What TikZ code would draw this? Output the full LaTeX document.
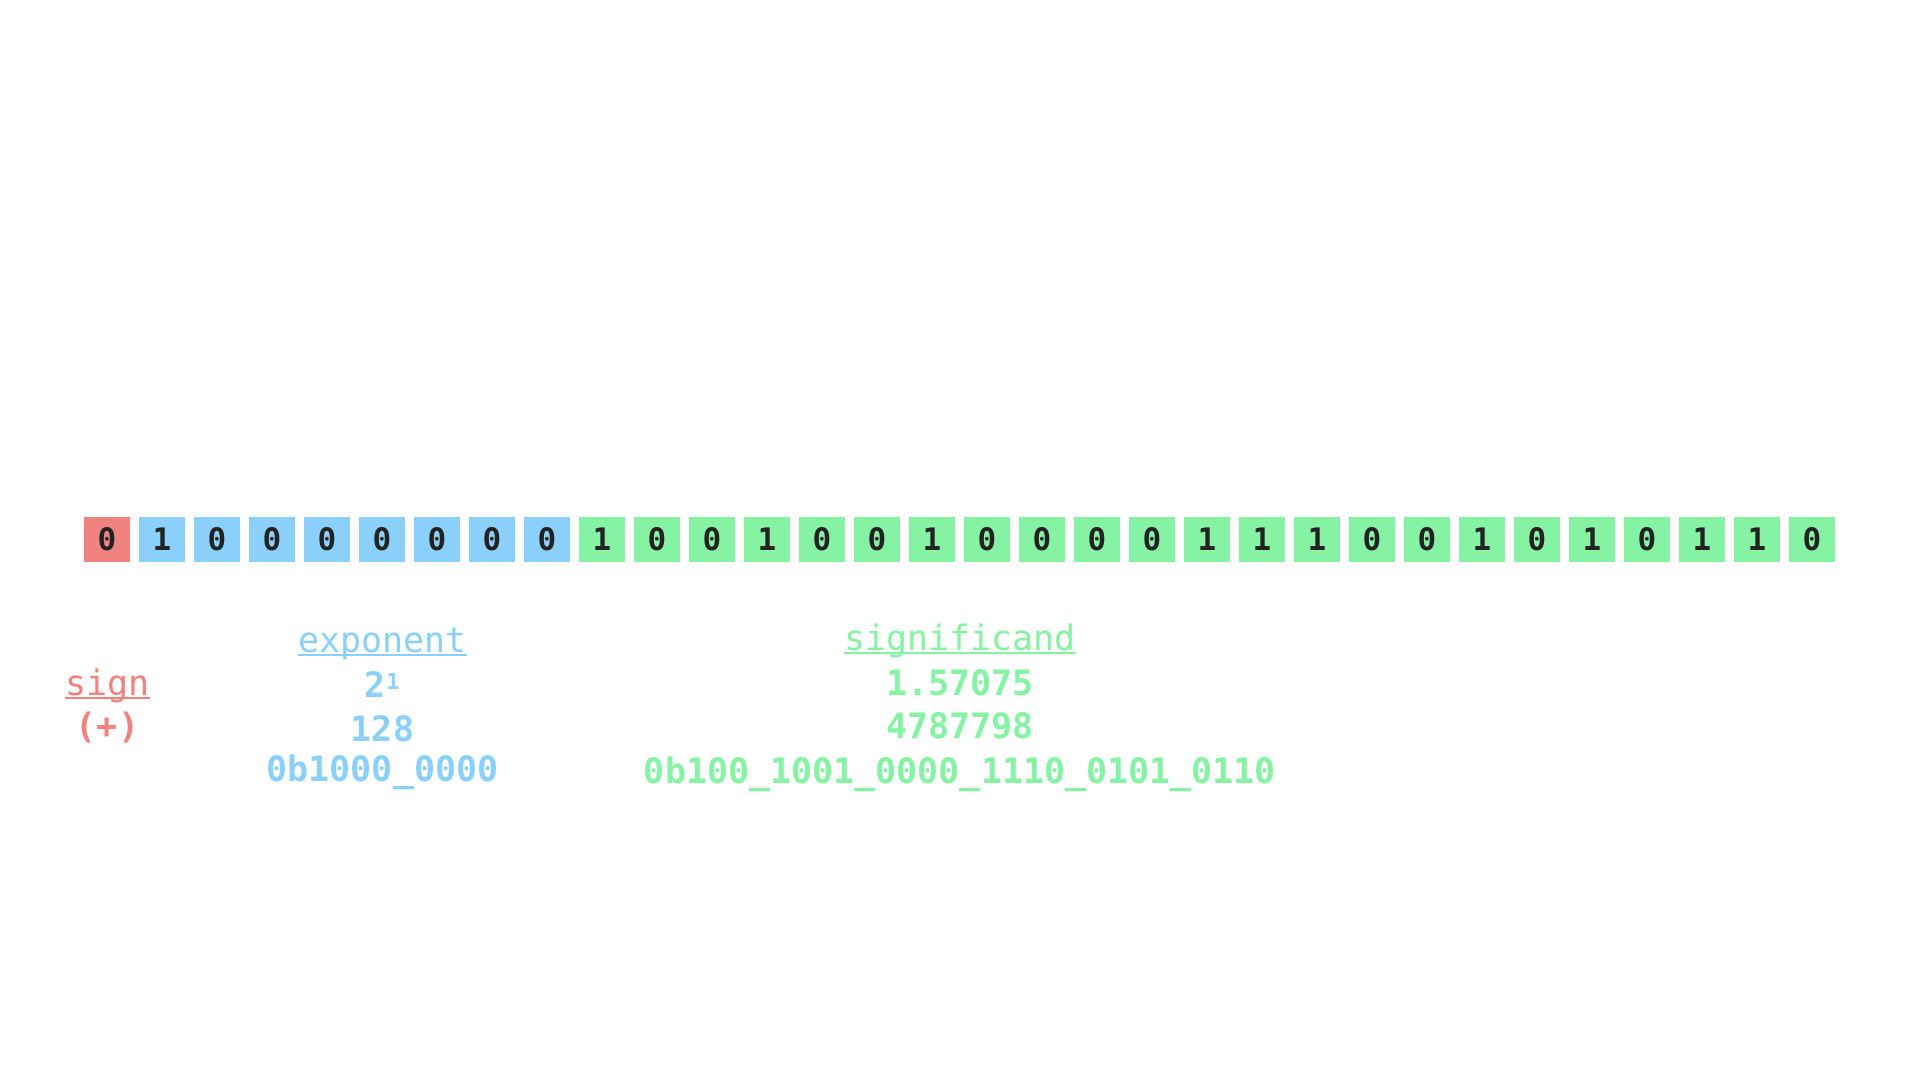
\documentclass[tikz,border=0pt]{standalone}
\usepackage{fontspec}
\newfontfamily\monofont{DejaVu Sans Mono}
\definecolor{signc}{RGB}{240,130,128}
\definecolor{expc}{RGB}{138,208,250}
\definecolor{sigc}{RGB}{134,242,164}
\definecolor{digitc}{RGB}{34,34,34}
\tikzset{
  bitbox/.style={minimum width=46pt, minimum height=45pt, inner sep=0pt, text=digitc,
    font=\monofont\bfseries\fontsize{31}{31}\selectfont},
  lbl/.style={inner sep=0pt, anchor=base, font=\monofont\fontsize{35}{35}\selectfont},
  val/.style={inner sep=0pt, anchor=base, font=\monofont\bfseries\fontsize{35}{35}\selectfont},
  uline/.style={line width=1.7pt},
}
\begin{document}
\begin{tikzpicture}[x=1pt,y=-1pt]
\fill[white] (0,0) rectangle (1920,1080);
\useasboundingbox (0,0) rectangle (1920,1080);
% sign bit
\node[bitbox,fill=signc] (b0) at (107,539.5) {0};
% exponent bits
\foreach \b [count=\i from 1] in {1,0,0,0,0,0,0,0}
  \node[bitbox,fill=expc] (b\i) at ({107+55*\i},539.5) {\b};
% significand bits
\foreach \b [count=\i from 9] in {1,0,0,1,0,0,1,0,0,0,0,1,1,1,0,0,1,0,1,0,1,1,0}
  \node[bitbox,fill=sigc] (b\i) at ({107+55*\i},539.5) {\b};
% sign labels
\node[lbl,text=signc] (signlbl) at (107.5,695) {sign};
\draw[signc,uline] ([yshift=-3pt]signlbl.base west) -- ([yshift=-3pt]signlbl.base east);
\node[val,text=signc] (signval) at (107.5,738) {(+)};
% exponent labels
\node[lbl,text=expc] (explbl) at (382.5,652) {exponent};
\draw[expc,uline] ([yshift=-3pt]explbl.base west) -- ([yshift=-3pt]explbl.base east);
\node[val,text=expc,anchor=base west] (exppow) at (364,697)
  {2\hspace{1pt}\raisebox{8pt}{\fontsize{22}{22}\selectfont 1}};
\node[val,text=expc] (expdec) at (382.5,741) {128};
\node[val,text=expc] (expbin) at (382.5,781) {0b1000\_0000};
% significand labels
\node[lbl,text=sigc] (siglbl) at (960,650) {significand};
\draw[sigc,uline] ([yshift=-3pt]siglbl.base west) -- ([yshift=-3pt]siglbl.base east);
\node[val,text=sigc] (sigval) at (960,695) {1.57075};
\node[val,text=sigc] (sigdec) at (960,738) {4787798};
\node[val,text=sigc] (sigbin) at (960,783) {0b100\_1001\_0000\_1110\_0101\_0110};
\end{tikzpicture}
\end{document}
